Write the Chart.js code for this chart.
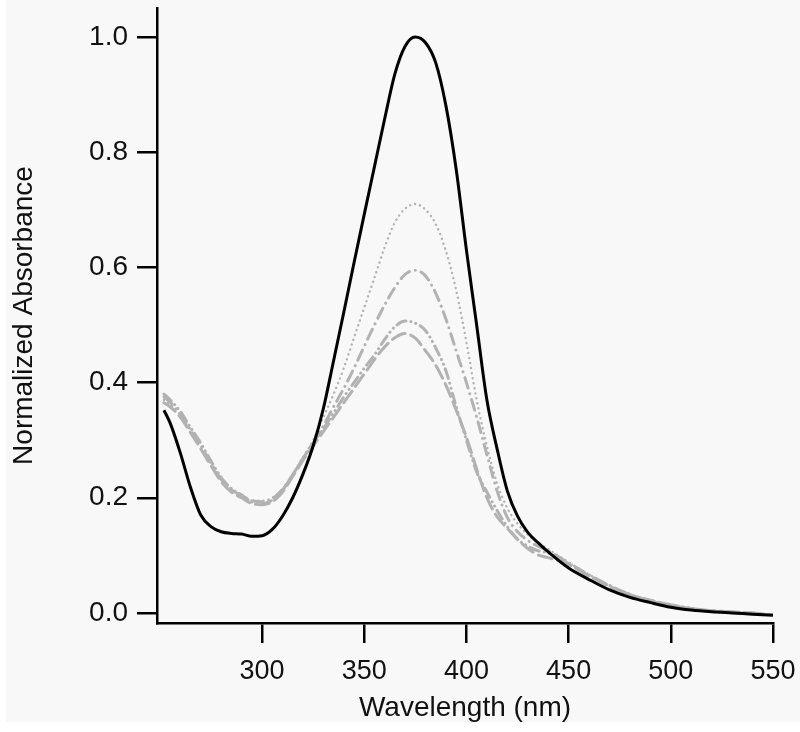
<!DOCTYPE html>
<html>
<head>
<meta charset="utf-8">
<script src="https://cdn.jsdelivr.net/npm/chart.js@4"></script>
<style>
  html, body { margin: 0; padding: 0; background: #ffffff; }
  #wrap { width: 800px; height: 732px; position: relative; }
</style>
</head>
<body>
<div id="wrap"><canvas id="chart"></canvas></div>
<script>
// wavelength grid (nm)
const wavelengths = [252, 255, 260, 265, 270, 275, 280, 285, 290, 295, 300, 305, 310, 315, 320, 325, 330, 335, 340, 345,
                     350, 355, 360, 365, 370, 375, 380, 385, 390, 395, 400, 405, 410, 415, 420, 425, 430, 435, 440, 450,
                     460, 470, 480, 490, 500, 510, 520, 530, 540, 550];

// solid black curve
const solidAbs = [0.352, 0.330, 0.278, 0.218, 0.170, 0.150, 0.141, 0.138, 0.137, 0.133, 0.134, 0.145, 0.168, 0.200, 0.241, 0.290, 0.355, 0.438, 0.522, 0.608,
                  0.692, 0.775, 0.858, 0.936, 0.984, 1.000, 0.990, 0.955, 0.880, 0.770, 0.630, 0.500, 0.370, 0.285, 0.212, 0.168, 0.140, 0.122, 0.106, 0.078,
                  0.058, 0.040, 0.027, 0.018, 0.010, 0.005, 0.002, 0.000, -0.002, -0.004];

// gray dotted curve
const dottedAbs = [0.370, 0.362, 0.345, 0.322, 0.293, 0.264, 0.236, 0.216, 0.203, 0.195, 0.195, 0.200, 0.215, 0.240, 0.270, 0.300, 0.340, 0.380, 0.425, 0.478,
                   0.530, 0.582, 0.635, 0.678, 0.702, 0.710, 0.700, 0.675, 0.628, 0.560, 0.470, 0.370, 0.290, 0.225, 0.182, 0.155, 0.136, 0.122, 0.111, 0.088,
                   0.067, 0.048, 0.033, 0.022, 0.015, 0.008, 0.004, 0.002, -0.001, -0.003];

// gray dash-dot curve
const dashDotAbs = [0.375, 0.366, 0.345, 0.318, 0.290, 0.260, 0.232, 0.214, 0.204, 0.195, 0.193, 0.198, 0.215, 0.240, 0.268, 0.295, 0.325, 0.358, 0.390, 0.425,
                    0.463, 0.500, 0.535, 0.565, 0.588, 0.595, 0.585, 0.555, 0.510, 0.455, 0.400, 0.340, 0.275, 0.212, 0.166, 0.141, 0.126, 0.116, 0.108, 0.087,
                    0.066, 0.048, 0.032, 0.022, 0.014, 0.008, 0.004, 0.002, 0.000, -0.003];

// gray dash-dot-dot curve
const dashDotDotAbs = [0.380, 0.370, 0.350, 0.322, 0.295, 0.264, 0.235, 0.216, 0.205, 0.193, 0.190, 0.196, 0.213, 0.240, 0.268, 0.295, 0.320, 0.347, 0.375, 0.400,
                       0.425, 0.448, 0.475, 0.497, 0.507, 0.503, 0.490, 0.460, 0.420, 0.358, 0.300, 0.245, 0.210, 0.178, 0.150, 0.128, 0.116, 0.108, 0.104, 0.086,
                       0.065, 0.047, 0.032, 0.022, 0.014, 0.008, 0.004, 0.002, 0.000, -0.003];

// gray long-dash curve
const longDashAbs = [0.365, 0.358, 0.340, 0.313, 0.285, 0.256, 0.228, 0.210, 0.200, 0.190, 0.188, 0.193, 0.210, 0.237, 0.265, 0.290, 0.315, 0.340, 0.365, 0.390,
                     0.415, 0.440, 0.462, 0.478, 0.485, 0.477, 0.455, 0.430, 0.395, 0.352, 0.305, 0.250, 0.200, 0.167, 0.147, 0.128, 0.112, 0.101, 0.096, 0.084,
                     0.064, 0.046, 0.031, 0.021, 0.013, 0.007, 0.003, 0.001, -0.001, -0.003];

// tick labels
const xTicks = [300, 350, 400, 450, 500, 550];
const yTicks = [0.0, 0.2, 0.4, 0.6, 0.8, 1.0];

const toPoints = arr => wavelengths.map((w, i) => ({ x: w, y: arr[i] }));

const GRAY = '#b2b2b2';
const FONT = "'Liberation Sans', Arial, Helvetica, sans-serif";

const mkSet = (label, arr, color, width, dash, cap) => ({
    label,
    data: toPoints(arr),
    borderColor: color,
    borderWidth: width,
    borderDash: dash,
    borderCapStyle: cap || 'butt',
    pointRadius: 0,
    fill: false,
    cubicInterpolationMode: 'monotone'
});

// paint the gray panel (white margin at left and bottom)
const panelBg = {
    id: 'panelBg',
    beforeDraw(chart){
        const ctx = chart.ctx;
        ctx.save();
        ctx.fillStyle = '#ffffff';
        ctx.fillRect(0, 0, chart.width, chart.height);
        ctx.fillStyle = '#f8f8f8';
        ctx.fillRect(6, 0, chart.width - 6, 722);
        ctx.restore();
    }
};

// drop the label overflow padding so the plot box sits where we want
const noPad = s => { s.paddingTop = 0; s.paddingBottom = 0; s.paddingLeft = 0; s.paddingRight = 0; };

new Chart(document.getElementById('chart'), {
    type: 'line',
    data: {
        datasets: [
            mkSet('solid', solidAbs, '#000000', 3, []),
            mkSet('dotted', dottedAbs, GRAY, 2.4, [0.1, 5], 'round'),
            mkSet('dash-dot', dashDotAbs, GRAY, 3, [11, 6, 0.1, 6], 'round'),
            mkSet('dash-dot-dot', dashDotDotAbs, GRAY, 3, [10, 5, 0.1, 5, 0.1, 5], 'round'),
            mkSet('long-dash', longDashAbs, GRAY, 3, [14, 6], 'round')
        ]
    },
    options: {
        responsive: true,
        maintainAspectRatio: false,
        animation: false,
        layout: { padding: { top: 8, right: 27, left: 0, bottom: 0 } },
        plugins: { legend: { display: false }, tooltip: { enabled: false } },
        scales: {
            x: {
                type: 'linear',
                min: 248.6,
                max: 550,
                afterFit: s => { s.height = 109; noPad(s); },
                afterBuildTicks: s => { s.ticks = xTicks.map(v => ({ value: v })); },
                border: { display: true, color: '#000', width: 2.5 },
                grid: { drawOnChartArea: false, drawTicks: true, tickLength: 20, color: '#000', lineWidth: 2.5 },
                ticks: { color: '#111', padding: 12, maxRotation: 0, font: { family: FONT, size: 27 } },
                title: { display: true, text: 'Wavelength (nm)', color: '#111', padding: { top: 0, bottom: 7 }, font: { family: FONT, size: 28 } }
            },
            y: {
                type: 'linear',
                min: -0.0174,
                max: 1.0503,
                afterFit: s => { s.width = 157; noPad(s); },
                afterBuildTicks: s => { s.ticks = yTicks.map(v => ({ value: v })); },
                border: { display: true, color: '#000', width: 2.5 },
                grid: { drawOnChartArea: false, drawTicks: true, tickLength: 20, color: '#000', lineWidth: 2.5 },
                ticks: { color: '#111', padding: 9, callback: v => v.toFixed(1), font: { family: FONT, size: 28 } },
                title: { display: true, text: 'Normalized Absorbance', color: '#111', padding: { top: 7, bottom: 0 }, font: { family: FONT, size: 28 } }
            }
        }
    },
    plugins: [panelBg]
});
</script>
</body>
</html>
